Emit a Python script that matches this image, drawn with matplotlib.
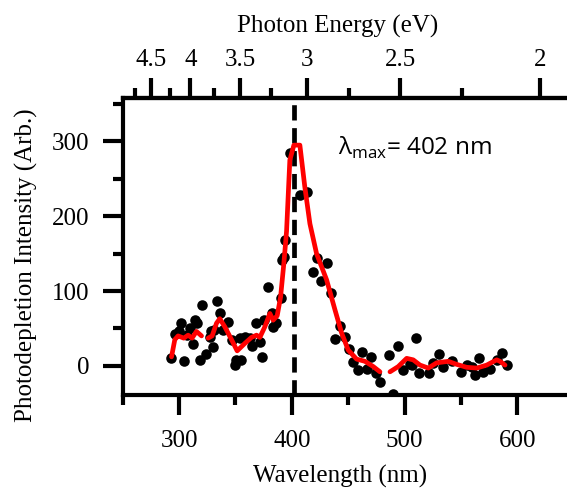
import matplotlib
matplotlib.use("Agg")
import matplotlib.pyplot as plt
import numpy as np

# Measured photodepletion points (wavelength in nm, intensity in arb. units)
wavelength_pts = [292.4, 296.2, 299.7, 302.1, 304.2, 306.6, 309.5, 312.4, 313.9, 316.0,
                  318.4, 319.9, 324.3, 327.2, 327.9, 330.2, 331.0, 333.7, 336.1, 339.0,
                  343.5, 346.5, 349.4, 350.9, 353.9, 354.8, 358.3, 362.7, 364.8, 367.8,
                  371.6, 373.7, 375.4, 378.4, 382.0, 383.4, 385.8, 390.2, 390.9, 392.9,
                  393.8, 398.2, 407.1, 413.1, 418.4, 421.9, 425.5, 430.8, 434.4, 438.2,
                  442.7, 447.0, 450.3, 454.4, 458.4, 461.8, 466.6, 469.8, 474.8, 478.1,
                  486.4, 490.0, 493.9, 498.2, 504.7, 506.2, 510.0, 512.8, 521.9, 525.4,
                  530.7, 534.3, 541.7, 550.0, 555.0, 559.5, 562.4, 566.2, 569.7, 575.7,
                  581.6, 586.0, 590.5]
intensity_pts = [10, 42, 47, 57, 6, 41, 50, 29, 61, 57,
                 8, 81, 16, 38, 46, 25, 48, 86, 70, 48,
                 59, 35, 1, 8, 37, 8, 39, 37, 26, 57,
                 32, 12, 61, 106, 70, 52, 57, 90, 141, 146,
                 168, 285, 228, 232, 126, 144, 114, 137, 97, 36,
                 53, 38, 22, 5, -5, 19, -4, 12, -10, -21,
                 15, -38, 27, -6, 3, 1, 37, -10, -9, 4,
                 16, -1, 6, -8, 1, -1, -12, 10, -8, -4,
                 8, 17, 1]

# Smoothed trace, three scan ranges separated by NaN
fit_wavelength = [293.3, 296.2, 299.1, 304.2, 308.0, 311.5, 315.4, 319.9, np.nan,
                  325.7, 329.3, 333.2, 336.1, 340.6, 346.5, 351.5, 358.3, 364.2, 368.7,
                  371.6, 376.0, 380.5, 383.4, 387.0, 390.0, 392.9, 395.3, 398.2, 401.8,
                  407.1, 411.5, 416.0, 421.9, 430.8, 438.2, 444.1, 450.0, 457.4, 464.8,
                  472.2, 478.1, np.nan,
                  487.0, 494.3, 501.8, 507.6, 513.6, 521.0, 528.4, 538.7, 546.1, 555.0,
                  563.9, 572.8, 581.6, 584.6, 589.0]
fit_intensity = [12, 35, 40, 37, 41, 37, 46, 40, np.nan,
                 37, 40, 57, 63, 52, 35, 20, 30, 38, 41,
                 38, 52, 70, 61, 67, 92, 137, 180, 275, 295,
                 295, 239, 190, 150, 115, 75, 44, 21, 9, 6,
                 -1, -8, np.nan,
                 -8, -1, 10, 8, 1, -3, 4, 6, 2, -2,
                 -3, 1, 8, 6, 1]

lambda_max = 402
wl_major = [300, 400, 500, 600]
wl_minor = [250, 350, 450, 550, 650]
int_major = [0, 100, 200, 300]
int_minor = [50, 150, 250, 350]
energy_major = [4.5, 4, 3.5, 3, 2.5, 2]
energy_minor = [4.75, 4.25, 3.75, 3.25, 2.75, 2.25]
HC = 1239.84  # eV*nm

plt.rcParams['font.family'] = ['Liberation Serif', 'DejaVu Serif']
plt.rcParams['lines.scale_dashes'] = False

W, H = 567, 488
fig = plt.figure(figsize=(W / 100, H / 100), dpi=100)
ax = fig.add_axes([122.7 / W, 1 - 395 / H, (573.8 - 122.7) / W, (395 - 98) / H])

ax.set_xlim(250, 650)
ax.set_ylim(-39, 358)

ax.axvline(lambda_max, color='black', lw=3.4, dashes=(11, 5.5), zorder=1)
ax.plot(wavelength_pts, intensity_pts, 'o', color='black', ms=7.6, mew=0, zorder=2)
ax.plot(fit_wavelength, fit_intensity, '-', color='#ff0000', lw=3.4,
        solid_joinstyle='round', solid_capstyle='round', zorder=3)

spine_w = 3.0
for s in ['left', 'bottom', 'top']:
    ax.spines[s].set_linewidth(spine_w)
ax.spines['right'].set_visible(False)

ax.set_xticks(wl_major)
ax.set_xticks(wl_minor, minor=True)
ax.set_yticks(int_major)
ax.set_yticks(int_minor, minor=True)
ax.tick_params(axis='both', which='major', direction='out', length=14.4, width=spine_w,
               labelsize=18, top=False, right=False)
ax.tick_params(axis='both', which='minor', direction='out', length=7.2, width=spine_w,
               top=False, right=False)
ax.tick_params(axis='x', which='major', pad=11)
ax.tick_params(axis='y', which='major', pad=9.4)

# Photon energy scale along the top
ax2 = ax.twiny()
ax2.set_xlim(ax.get_xlim())
ax2.set_xticks([HC / e for e in energy_major])
ax2.set_xticklabels([f'{e:g}' for e in energy_major])
ax2.set_xticks([HC / e for e in energy_minor], minor=True)
ax2.tick_params(axis='x', which='major', direction='out', length=14.4, width=spine_w,
                labelsize=18, pad=5)
ax2.tick_params(axis='x', which='minor', direction='out', length=7.2, width=spine_w)
for s in ['left', 'right', 'bottom']:
    ax2.spines[s].set_visible(False)
ax2.spines['top'].set_linewidth(spine_w)

fig.text(340 / W, 1 - 483 / H, 'Wavelength (nm)', fontsize=18, ha='center', va='baseline')
fig.text(338 / W, 1 - 33 / H, 'Photon Energy (eV)', fontsize=18, ha='center', va='baseline')
fig.text(26 / W, 1 - 265 / H, 'Photodepletion Intensity (Arb.)', fontsize=18,
         rotation=90, ha='center', va='center')

fig.text(338 / W, 1 - 155 / H, r'λ$_{\mathregular{max}}$= 402 nm', fontsize=17.5,
         family=['Open Sans', 'DejaVu Sans'], ha='left', va='baseline')

fig.savefig('out.png', dpi=100)
